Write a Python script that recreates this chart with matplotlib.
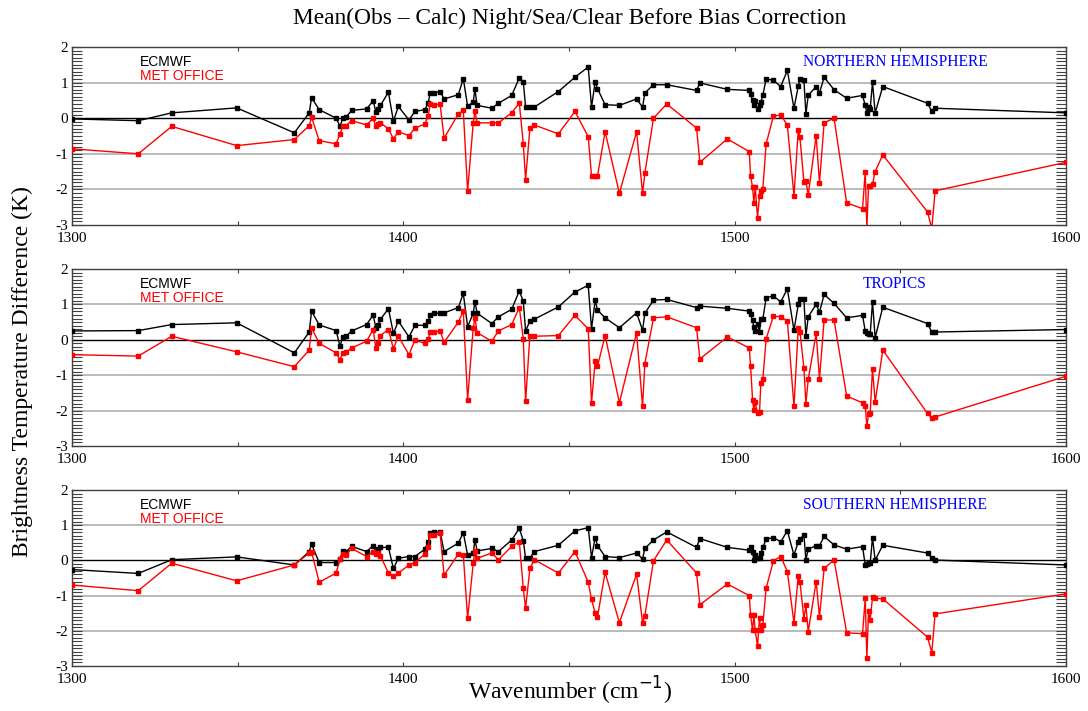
import numpy as np
import matplotlib
matplotlib.use("Agg")
import matplotlib.pyplot as plt
import matplotlib.transforms as mtransforms
from matplotlib.ticker import MultipleLocator

plt.rcParams['axes.unicode_minus'] = False

# channel wavenumbers (cm-1)
wavenumber = [
    1300.0, 1320.0, 1330.1, 1349.7, 1367.1, 1371.6, 1372.3, 1374.6, 1379.7, 1380.9,
    1381.7, 1382.7, 1384.4, 1388.9, 1390.9, 1391.7, 1392.4, 1393.1, 1395.5, 1397.0,
    1398.5, 1401.7, 1403.5, 1406.5, 1407.5, 1408.1, 1409.3, 1411.1, 1412.3, 1416.6,
    1418.1, 1419.4, 1421.1, 1421.6, 1422.3, 1426.7, 1428.7, 1432.7, 1435.0, 1436.2,
    1436.9, 1438.2, 1439.5, 1446.8, 1451.8, 1455.8, 1456.8, 1457.9, 1458.6, 1460.9,
    1465.2, 1470.4, 1472.2, 1472.9, 1475.5, 1479.5, 1488.5, 1489.5, 1497.8,
    1504.4, 1504.8, 1505.4, 1505.8, 1506.2, 1506.9, 1507.5, 1507.9, 1508.5,
    1509.5, 1511.7, 1513.9, 1515.9, 1517.9, 1519.2, 1519.7, 1520.9, 1521.5, 1522.2,
    1524.6, 1525.6, 1527.0, 1530.0, 1533.8, 1538.6, 1539.4, 1539.9, 1540.4, 1540.9,
    1541.6, 1542.4, 1544.7, 1558.2, 1559.5, 1560.5, 1600.0,
]

# northern hemisphere
nh_ecmwf = [
    -0.02, -0.07, 0.15, 0.29, -0.41, 0.15, 0.58, 0.24, 0.00, -0.23,
    0.00, 0.03, 0.22, 0.26, 0.49, 0.18, 0.26, 0.36, 0.73, -0.08,
    0.33, -0.05, 0.19, 0.24, 0.43, 0.71, 0.71, 0.75, 0.54, 0.66,
    1.11, 0.34, 0.45, 0.81, 0.36, 0.28, 0.42, 0.64, 1.13, 1.03,
    0.31, 0.31, 0.31, 0.75, 1.15, 1.44, 0.31, 1.03, 0.83, 0.38,
    0.36, 0.54, 0.31, 0.71, 0.94, 0.94, 0.78, 0.99, 0.81,
    0.78, 0.69, 0.50, 0.36, 0.47, 0.26, 0.38, 0.45, 0.64,
    1.11, 1.06, 0.89, 1.34, 0.28, 0.90, 1.09, 1.06, 0.12, 0.64,
    0.89, 0.71, 1.15, 0.80, 0.56, 0.64, 0.36, 0.15, 0.31, 0.26,
    1.01, 0.15, 0.89, 0.42, 0.19, 0.28, 0.15,
]
nh_metoffice = [
    -0.86, -1.00, -0.23, -0.77, -0.60, -0.21, 0.03, -0.63, -0.72, -0.44,
    -0.23, -0.21, -0.07, -0.19, 0.00, -0.23, -0.16, -0.13, -0.30, -0.58,
    -0.38, -0.49, -0.28, -0.16, 0.06, 0.40, 0.38, 0.39, -0.56, 0.12,
    0.22, -2.05, -0.13, 0.19, -0.13, -0.13, -0.13, 0.15, 0.43, -0.72,
    -1.73, -0.28, -0.19, -0.44, 0.19, -0.52, -1.62, -1.62, -1.62, -0.38,
    -2.11, -0.38, -2.11, -1.54, 0.00, 0.40, -0.28, -1.24, -0.58,
    -0.94, -1.62, -1.94, -2.37, -1.94, -2.79, -2.18, -2.05, -1.99,
    -0.72, 0.06, 0.09, -0.19, -2.18, -0.32, -0.54, -1.80, -1.76, -2.16,
    -0.49, -1.82, -0.13, 0.00, -2.38, -2.54, -1.50, -3.10, -1.90, -1.90,
    -1.85, -1.50, -1.03, -2.63, -3.10, -2.04, -1.24,
]

# tropics
tr_ecmwf = [
    0.25, 0.26, 0.43, 0.48, -0.37, 0.22, 0.81, 0.42, 0.26, -0.18,
    0.08, 0.10, 0.25, 0.43, 0.70, 0.34, 0.43, 0.58, 0.88, 0.18,
    0.53, 0.08, 0.41, 0.41, 0.53, 0.69, 0.75, 0.75, 0.76, 0.91,
    1.31, 0.37, 0.75, 1.07, 0.75, 0.46, 0.65, 0.86, 1.38, 1.09,
    0.25, 0.53, 0.58, 0.93, 1.35, 1.54, 0.31, 1.12, 0.84, 0.62,
    0.34, 0.76, 0.27, 0.75, 1.12, 1.14, 0.91, 0.95, 0.89,
    0.81, 0.73, 0.55, 0.36, 0.25, 0.45, 0.23, 0.58, 0.58,
    1.19, 1.24, 1.07, 1.44, 0.27, 1.00, 1.16, 1.14, 0.10, 0.65,
    1.00, 0.78, 1.28, 1.03, 0.62, 0.69, 0.25, 0.18, 0.15, 0.15,
    1.07, 0.06, 0.92, 0.46, 0.22, 0.22, 0.29,
]
tr_metoffice = [
    -0.42, -0.46, 0.10, -0.34, -0.76, -0.29, 0.34, -0.10, -0.37, -0.56,
    -0.37, -0.35, -0.23, -0.04, 0.29, -0.23, -0.08, 0.12, 0.29, -0.25,
    0.10, -0.42, -0.01, -0.10, 0.01, 0.22, 0.22, 0.25, -0.07, 0.50,
    0.81, -1.69, 0.34, 0.62, 0.20, -0.04, 0.25, 0.43, 0.91, 0.03,
    -1.74, 0.12, 0.10, 0.12, 0.69, 0.31, -1.78, -0.60, -0.75, 0.12,
    -1.78, 0.20, -1.88, -0.67, 0.62, 0.65, 0.34, -0.54, 0.08,
    -0.23, -0.73, -1.69, -1.99, -1.76, -2.08, -2.05, -1.22, -1.12,
    0.03, 0.67, 0.65, 0.53, -1.88, 0.34, 0.22, -0.79, -1.80, -1.12,
    0.18, -1.10, 0.56, 0.56, -1.59, -1.78, -1.88, -2.44, -2.11, -2.08,
    -0.82, -1.76, -0.29, -2.08, -2.21, -2.18, -1.03,
]

# southern hemisphere
sh_ecmwf = [
    -0.26, -0.37, 0.02, 0.10, -0.13, 0.25, 0.46, -0.06, -0.06, 0.04,
    0.27, 0.25, 0.40, 0.25, 0.42, 0.25, 0.32, 0.37, 0.37, -0.23,
    0.06, 0.11, 0.11, 0.32, 0.53, 0.77, 0.81, 0.81, 0.25, 0.49,
    0.79, 0.15, 0.21, 0.58, 0.27, 0.34, 0.25, 0.58, 0.91, 0.56,
    0.06, 0.06, 0.25, 0.43, 0.84, 0.93, 0.08, 0.65, 0.42, 0.11,
    0.08, 0.21, 0.04, 0.34, 0.58, 0.81, 0.37, 0.62, 0.37,
    0.29, 0.39, 0.25, 0.02, 0.15, 0.06, 0.08, 0.20, 0.37,
    0.60, 0.65, 0.53, 0.84, 0.15, 0.53, 0.60, 0.72, 0.02, 0.32,
    0.42, 0.42, 0.68, 0.44, 0.32, 0.39, -0.13, -0.10, -0.08, -0.08,
    0.65, 0.01, 0.43, 0.21, 0.06, 0.01, -0.13,
]
sh_metoffice = [
    -0.70, -0.86, -0.08, -0.58, -0.13, 0.21, 0.25, -0.62, -0.36, 0.04,
    0.18, 0.15, 0.34, 0.11, 0.25, 0.18, 0.21, 0.13, -0.36, -0.43,
    -0.36, -0.13, -0.06, 0.18, 0.37, 0.72, 0.72, 0.77, -0.42, 0.18,
    0.15, -1.64, -0.08, 0.27, 0.06, 0.21, 0.02, 0.40, 0.53, -0.79,
    -1.36, -0.23, 0.02, -0.36, 0.25, -0.62, -1.11, -1.49, -1.61, -0.34,
    -1.77, -0.39, -1.77, -1.57, -0.01, 0.58, -0.36, -1.26, -0.67,
    -1.00, -1.55, -1.99, -1.55, -1.99, -2.43, -1.64, -1.99, -1.83,
    -0.79, -0.01, 0.11, -0.32, -1.77, -0.43, -0.60, -1.66, -1.28, -2.02,
    -0.60, -1.61, -0.23, 0.02, -2.06, -2.08, -1.08, -2.77, -1.45, -1.68,
    -1.05, -1.08, -1.09, -2.18, -2.62, -1.52, -0.95,
]

regions = ["NORTHERN HEMISPHERE", "TROPICS", "SOUTHERN HEMISPHERE"]
ecmwf = [nh_ecmwf, tr_ecmwf, sh_ecmwf]
metoffice = [nh_metoffice, tr_metoffice, sh_metoffice]

W, H = 1088, 711
fig = plt.figure(figsize=(W / 100, H / 100), dpi=100)

# panel extents in pixels: (top, bottom)
panels = [(47, 225), (269, 446), (490, 666)]
x0, x1 = 72, 1066
serif = "Liberation Serif"
frame = "#404040"
lift = mtransforms.ScaledTranslation(0, 4 / 100, fig.dpi_scale_trans)

for (top, bot), name, ec, mo in zip(panels, regions, ecmwf, metoffice):
    ax = fig.add_axes([x0 / W, 1 - bot / H, (x1 - x0) / W, (bot - top) / H])
    ax.set_xlim(1300, 1600)
    ax.set_ylim(-3, 2)
    for g in (-2, -1, 1):
        ax.axhline(g, color="#b4b4b4", lw=1.3, zorder=1)
    ax.axhline(0, color="black", lw=1.0, zorder=2)

    ax.plot(wavenumber, ec, color="black", lw=1.0, marker="s", ms=3.0,
            mec="black", mfc="black", zorder=3)
    ax.plot(wavenumber, mo, color="red", lw=1.0, marker="s", ms=3.0,
            mec="red", mfc="red", zorder=3)

    ax.xaxis.set_major_locator(MultipleLocator(100))
    ax.xaxis.set_minor_locator(MultipleLocator(50))
    ax.yaxis.set_major_locator(MultipleLocator(1))
    ax.yaxis.set_minor_locator(MultipleLocator(0.1))
    ax.tick_params(axis="x", which="both", direction="in", top=True, bottom=True,
                   length=3, width=0.8, color=frame, labelsize=11, pad=5)
    ax.tick_params(axis="y", which="both", direction="in", left=True, right=True,
                   length=7, width=0.8, color=frame, labelsize=11, pad=3)
    for lab in ax.get_xticklabels() + ax.get_yticklabels():
        lab.set_fontfamily(serif)
    # keep the lowest y label clear of the first wavenumber label
    ylabs = ax.get_yticklabels()
    ylabs[0].set_transform(ylabs[0].get_transform() + lift)
    for sp in ax.spines.values():
        sp.set_color(frame)
        sp.set_linewidth(1.0)

    ax.text(0.068, 0.893, "ECMWF", transform=ax.transAxes, color="black",
            fontsize=10, family="Liberation Sans", va="baseline")
    ax.text(0.068, 0.815, "MET OFFICE", transform=ax.transAxes, color="red",
            fontsize=10, family="Liberation Sans", va="baseline")
    ax.text(0.828, 0.893, name, transform=ax.transAxes, color="blue",
            fontsize=11.2, family=serif, ha="center", va="baseline")

fig.text(0.524, 0.974, "Mean(Obs \u2013 Calc) Night/Sea/Clear Before Bias Correction",
         ha="center", va="center", fontsize=16.8, family=serif)
fig.text(0.021, 0.4775, "Brightness Temperature Difference (K)", rotation=90,
         ha="center", va="center", fontsize=17, family=serif)
fig.text(0.524, 0.028, "Wavenumber (cm$^{-1}$)", ha="center", va="center",
         fontsize=17, family=serif)

fig.savefig("out.png", dpi=100, facecolor="white")
